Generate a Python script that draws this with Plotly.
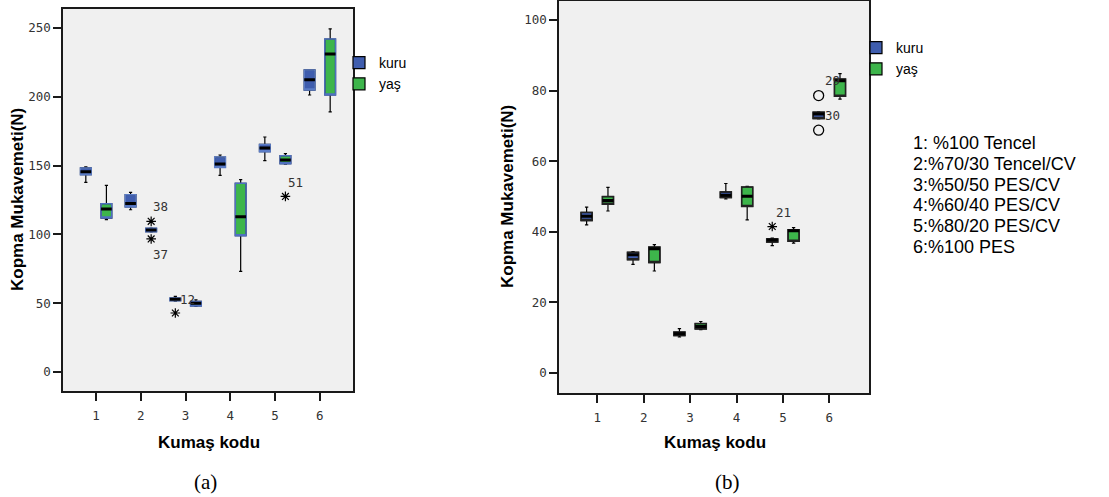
import plotly.graph_objects as go

W, H = 1109, 497

# ---------------- data ----------------
CODES = [1, 2, 3, 4, 5, 6]
SERIES = ["kuru", "yaş"]
FABRICS = ["1: %100 Tencel", "2:%70/30 Tencel/CV", "3:%50/50 PES/CV",
           "4:%60/40 PES/CV", "5:%80/20 PES/CV", "6:%100 PES"]
Y_TITLE = "Kopma Mukavemeti(N)"
X_TITLE = "Kumaş kodu"
CAPTIONS = ["(a)", "(b)"]

# panel (a)
A_KURU_LO = [137.8, 117.9, 51.5, 142.9, 153.6, 201.3]
A_KURU_Q1 = [143.4, 119.9, 51.8, 148.7, 160.1, 204.9]
A_KURU_MED = [145.5, 122.5, 52.8, 151.2, 162.8, 212.4]
A_KURU_Q3 = [148.3, 128.9, 53.8, 156.2, 165.4, 219.5]
A_KURU_HI = [149.0, 130.5, 55.0, 157.7, 170.8, 219.5]
A_KURU_EXT = [[None], [None], [42.9], [None], [None], [None]]

A_YAS_LO = [110.7, 101.8, 47.7, 73.1, 151.0, 189.0]
A_YAS_Q1 = [111.9, 102.0, 48.0, 99.1, 151.4, 201.3]
A_YAS_MED = [118.5, 103.2, 50.0, 112.9, 154.1, 231.1]
A_YAS_Q3 = [122.3, 104.4, 51.3, 137.1, 157.2, 242.0]
A_YAS_HI = [135.6, 104.6, 52.5, 139.8, 158.7, 249.3]
A_YAS_EXT = [[None], [109.5, 96.7], [None], [None], [127.6], [None]]

# panel (b)
B_KURU_LO = [42.0, 30.8, 10.2, 49.3, 36.1, 72.0]
B_KURU_Q1 = [43.2, 32.1, 10.6, 49.7, 37.1, 72.1]
B_KURU_MED = [44.4, 33.5, 11.1, 50.4, 37.7, 73.4]
B_KURU_Q3 = [45.5, 34.2, 11.6, 51.3, 38.0, 73.9]
B_KURU_HI = [47.0, 34.4, 12.6, 53.7, 38.2, 74.0]
B_KURU_EXT = [[None], [None], [None], [None], [41.5], [None]]
B_KURU_OUT = [[None], [None], [None], [None], [None], [78.6, 68.8]]

B_YAS_LO = [45.9, 28.9, 12.3, 43.4, 36.8, 77.6]
B_YAS_Q1 = [47.8, 31.3, 12.5, 47.2, 37.3, 78.4]
B_YAS_MED = [48.9, 35.2, 13.2, 50.1, 40.3, 82.8]
B_YAS_Q3 = [50.0, 35.7, 14.0, 52.7, 40.6, 83.3]
B_YAS_HI = [52.6, 36.4, 14.6, 52.9, 41.2, 84.8]

# case labels: (text, code, value)
A_CASE_LABELS = [("38", 2, 109.5), ("37", 2, 96.7), ("12", 3, 53.0), ("51", 5, 127.6)]
B_CASE_LABELS = [("21", 5, 41.5), ("29", 6, 78.6), ("30", 6, 73.0)]

# ---------------- styles ----------------
A_LABEL_SHIFTS = [(20, 15), (20, -16), (2, 0), (20, 14)]
B_LABEL_SHIFTS = [(1, 14), (3, 15), (3.5, 0)]
FILL = {"kuru": "#3F5DAE", "yaş": "#3DB54B"}
TICKFONT = dict(family="DejaVu Sans Mono", size=12.5, color="#333333")
LABELFONT = dict(family="DejaVu Sans Mono", size=12.5, color="#333333")

fig = go.Figure()


def px(x):
    return x / W


def py(y):
    return 1 - y / H


def add_series(xa, ya, name, lo, q1, med, q3, hi, outline, legend,
               ext=None, out=None):
    main = dict(x=CODES, lowerfence=lo, q1=q1, median=med, q3=q3, upperfence=hi,
                xaxis=xa, yaxis=ya, name=name, offsetgroup=name,
                fillcolor=FILL[name], line=dict(color="black", width=1.2),
                whiskerwidth=0.3, legend=legend, showlegend=True,
                boxpoints=False, hoverinfo="skip")
    if ext is not None:
        main.update(y=ext, boxpoints="outliers", pointpos=0, jitter=0,
                    marker=dict(symbol="asterisk-open", size=8, color="black",
                                line=dict(color="black", width=1.2)))
    fig.add_trace(go.Box(**main))
    if out is not None:
        fig.add_trace(go.Box(x=CODES, lowerfence=lo, q1=q1, median=med, q3=q3,
                             upperfence=hi, y=out, xaxis=xa, yaxis=ya, name=name,
                             offsetgroup=name, fillcolor="rgba(0,0,0,0)",
                             line=dict(color="rgba(0,0,0,0)", width=0),
                             whiskerwidth=0, boxpoints="outliers", pointpos=0,
                             jitter=0, showlegend=False, hoverinfo="skip",
                             marker=dict(symbol="circle-open", size=10, color="black",
                                         line=dict(color="black", width=1.3))))
    # box outline overlay
    fig.add_trace(go.Box(x=CODES, lowerfence=q1, q1=q1, median=q1, q3=q3, upperfence=q3,
                         xaxis=xa, yaxis=ya, name=name, offsetgroup=name,
                         fillcolor="rgba(0,0,0,0)", line=dict(color=outline, width=1.5),
                         whiskerwidth=0, boxpoints=False, showlegend=False,
                         hoverinfo="skip"))
    # thick median overlay
    fig.add_trace(go.Box(x=CODES, lowerfence=med, q1=med, median=med, q3=med,
                         upperfence=med, xaxis=xa, yaxis=ya, name=name,
                         offsetgroup=name, fillcolor="rgba(0,0,0,0)",
                         line=dict(color="black", width=3), whiskerwidth=0,
                         boxpoints=False, showlegend=False, hoverinfo="skip"))


add_series("x", "y", SERIES[0], A_KURU_LO, A_KURU_Q1, A_KURU_MED, A_KURU_Q3, A_KURU_HI,
           "#5B7CC6", "legend", ext=A_KURU_EXT)
add_series("x", "y", SERIES[1], A_YAS_LO, A_YAS_Q1, A_YAS_MED, A_YAS_Q3, A_YAS_HI,
           "#4F70C0", "legend", ext=A_YAS_EXT)
add_series("x2", "y2", SERIES[0], B_KURU_LO, B_KURU_Q1, B_KURU_MED, B_KURU_Q3, B_KURU_HI,
           "#222222", "legend2", ext=B_KURU_EXT, out=B_KURU_OUT)
add_series("x2", "y2", SERIES[1], B_YAS_LO, B_YAS_Q1, B_YAS_MED, B_YAS_Q3, B_YAS_HI,
           "#222222", "legend2")

axis_common = dict(showline=True, mirror=True, linecolor="#1a1a1a", linewidth=1.5,
                   ticks="outside", ticklen=8, tickwidth=1.5, tickcolor="#1a1a1a",
                   tickfont=TICKFONT, showgrid=False, zeroline=False, fixedrange=True)

annotations = []
for cx, cy in [(17, 200), (507, 197)]:
    annotations.append(dict(x=px(cx), y=py(cy), xref="paper", yref="paper",
                            text="<b>%s</b>" % Y_TITLE, textangle=-90, showarrow=False,
                            font=dict(family="Arial", size=17, color="black"),
                            xanchor="center", yanchor="middle"))
for cx, cy in [(209, 442), (715, 442)]:
    annotations.append(dict(x=px(cx), y=py(cy), xref="paper", yref="paper",
                            text="<b>%s</b>" % X_TITLE, showarrow=False,
                            font=dict(family="Arial", size=17, color="black"),
                            xanchor="center", yanchor="middle"))
for cap, (cx, cy) in zip(CAPTIONS, [(205, 482), (727, 482)]):
    annotations.append(dict(x=px(cx), y=py(cy), xref="paper", yref="paper",
                            text=cap, showarrow=False,
                            font=dict(family="Liberation Serif", size=21, color="black"),
                            xanchor="center", yanchor="middle"))
for i, t in enumerate(FABRICS):
    annotations.append(dict(x=px(911), y=py(143 + 20.8 * i), xref="paper", yref="paper",
                            text=t, showarrow=False, xanchor="left", yanchor="middle",
                            font=dict(family="Arial", size=18, color="black")))
for (t, c, v), (dx, dy) in zip(A_CASE_LABELS, A_LABEL_SHIFTS):
    annotations.append(dict(x=c, y=v, xref="x", yref="y", text=t, showarrow=False,
                            xshift=dx, yshift=dy, font=LABELFONT))
for (t, c, v), (dx, dy) in zip(B_CASE_LABELS, B_LABEL_SHIFTS):
    annotations.append(dict(x=c, y=v, xref="x2", yref="y2", text=t, showarrow=False,
                            xshift=dx, yshift=dy, font=LABELFONT))

legend_common = dict(bgcolor="rgba(0,0,0,0)", font=dict(family="Arial", size=14, color="black"),
                     xanchor="left", yanchor="top", tracegroupgap=0, itemclick=False,
                     itemdoubleclick=False)

fig.update_layout(
    width=W, height=H, autosize=False,
    margin=dict(l=0, r=0, t=0, b=0),
    paper_bgcolor="white", plot_bgcolor="#F0F0F0",
    boxmode="group", boxgap=0.08, boxgroupgap=0.48,
    xaxis=dict(domain=[px(63), px(353)], range=[0.26, 6.74], tickvals=CODES,
               anchor="y", ticklabelstandoff=4, **axis_common),
    yaxis=dict(domain=[py(391), py(9)], range=[-13.8, 263.8], tick0=0, dtick=50,
               anchor="x", **axis_common),
    xaxis2=dict(domain=[px(559), px(869)], range=[0.175, 6.855], tickvals=CODES,
                anchor="y2", ticklabelstandoff=4, **axis_common),
    yaxis2=dict(domain=[py(393), py(1)], range=[-5.66, 105.4], tick0=0, dtick=20,
                anchor="x2", **axis_common),
    legend=dict(x=px(339), y=py(47), **legend_common),
    legend2=dict(x=px(856), y=py(32), **legend_common),
    annotations=annotations,
    showlegend=True,
)

fig.write_html("out.html")
